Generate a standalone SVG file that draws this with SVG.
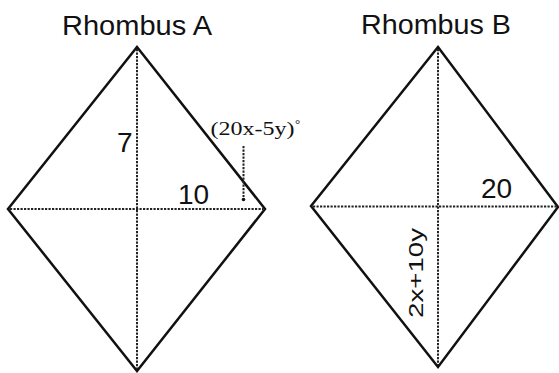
<svg xmlns="http://www.w3.org/2000/svg" width="559" height="373" viewBox="0 0 559 373">
<style>
.edge{fill:none;stroke:#111;stroke-width:2.5;stroke-linejoin:miter}
.diag{fill:none;stroke:#222;stroke-width:2;stroke-dasharray:2.2 1.3}
.t{font-family:"Liberation Sans",Arial,sans-serif;fill:#111}
.s{font-family:"Liberation Serif","Times New Roman",serif;fill:#111}
</style>
<rect width="559" height="373" fill="#fff"/>
<g id="rhombusA">
<text class="t" x="137" y="35" font-size="27" text-anchor="middle" textLength="150" lengthAdjust="spacingAndGlyphs">Rhombus A</text>
<polygon class="edge" points="137,47 265,209 137,371 8,209"/>
<text class="t" x="117" y="152" font-size="28">7</text>
<text class="t" x="178" y="204" font-size="28">10</text>
<text class="s" x="210.5" y="134.5" font-size="19.5" textLength="84" lengthAdjust="spacingAndGlyphs">(20x-5y)</text>
<text class="s" x="295" y="128" font-size="13">°</text>
<circle cx="243.5" cy="199.5" r="1.8" fill="#111"/>
</g>
<g id="rhombusB">
<text class="t" x="436" y="34" font-size="27" text-anchor="middle" textLength="150" lengthAdjust="spacingAndGlyphs">Rhombus B</text>
<polygon class="edge" points="438,47 558,207 438,367 311,206"/>
<text class="t" x="481" y="198" font-size="28">20</text>
<text class="t" transform="translate(423,318) rotate(-90)" font-size="21" textLength="90" lengthAdjust="spacingAndGlyphs">2x+10y</text>
</g>
<g id="connectors">
<line class="diag" x1="137" y1="49" x2="137" y2="369"/>
<line class="diag" x1="10" y1="209" x2="263" y2="209"/>
<line class="diag" x1="243.5" y1="146" x2="243.5" y2="197"/>
<line class="diag" x1="438" y1="49" x2="438" y2="365"/>
<line class="diag" x1="313" y1="206.5" x2="556" y2="206.5"/>
</g>
</svg>
